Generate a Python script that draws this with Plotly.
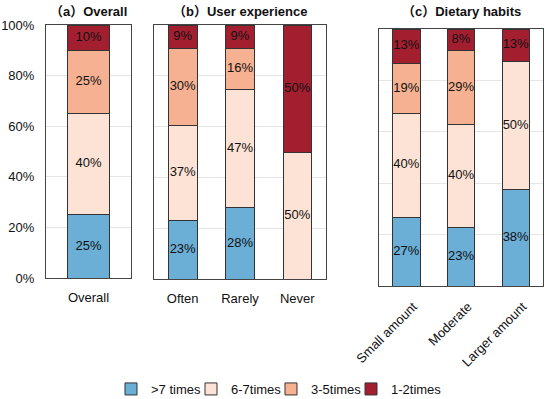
import plotly.graph_objects as go

W, H = 550, 399

series_names = [">7 times", "6-7times", "3-5times", "1-2times"]
colors = ["#6baed6", "#fde3d5", "#f6b192", "#a31f30"]

cats_a = ["Overall"]
a_gt7 = [25.0]
a_67 = [40.0]
a_35 = [25.0]
a_12 = [10.0]

cats_b = ["Often", "Rarely", "Never"]
b_gt7 = [23.2, 28.0, 0.0]
b_67 = [37.3, 46.8, 50.0]
b_35 = [30.3, 16.0, 0.0]
b_12 = [9.2, 9.2, 50.0]

cats_c = ["Small amount", "Moderate", "Larger amount"]
c_gt7 = [26.8, 22.9, 37.6]
c_67 = [40.4, 39.9, 49.8]
c_35 = [19.4, 28.8, 0.0]
c_12 = [13.4, 8.4, 12.6]

titles = ["（a）Overall", "（b）User experience", "（c）Dietary habits"]
y_ticks = [0, 20, 40, 60, 80, 100]
y_ticktext = ["0%", "20%", "40%", "60%", "80%", "100%"]

FONT = "Arial, Liberation Sans, Noto Sans CJK SC, sans-serif"

panels = [
    (cats_a, [a_gt7, a_67, a_35, a_12]),
    (cats_b, [b_gt7, b_67, b_35, b_12]),
    (cats_c, [c_gt7, c_67, c_35, c_12]),
]

# plot-area rectangles in pixels (left, right, top, bottom)
rects = [(46, 131, 25, 278), (154, 326, 25, 279), (379, 543, 29, 286)]
# x where each legend entry's text starts
legend_text_x = [151, 231, 311, 391]
legend_y = 389

def px(x):
    return x / W

def py(y):
    return 1 - y / H

fig = go.Figure()
legend_ids = ["legend", "legend2", "legend3", "legend4"]

for pi, (cats, vals) in enumerate(panels):
    suffix = "" if pi == 0 else str(pi + 1)
    xa, ya = "x" + suffix, "y" + suffix
    base = [0.0] * len(cats)
    for si, v in enumerate(vals):
        fig.add_trace(go.Bar(
            x=cats, y=v, name=series_names[si], width=0.5,
            marker=dict(color=colors[si], line=dict(color="#333333", width=1)),
            xaxis=xa, yaxis=ya, legendgroup=series_names[si],
            legend=legend_ids[si],
            showlegend=(pi == 0), hoverinfo="skip",
        ))
        mids = [b + val / 2 for b, val in zip(base, v)]
        texts = [f"{round(val)}%" if val > 0 else "" for val in v]
        fig.add_trace(go.Scatter(
            x=cats, y=mids, text=texts, mode="text",
            textfont=dict(family=FONT, size=13, color="#111111"),
            xaxis=xa, yaxis=ya, showlegend=False, hoverinfo="skip",
            cliponaxis=False,
        ))
        base = [b + val for b, val in zip(base, v)]

layout = dict(
    width=W, height=H, autosize=False,
    margin=dict(l=0, r=0, t=0, b=0, autoexpand=False),
    paper_bgcolor="white", plot_bgcolor="white",
    barmode="stack",
    font=dict(family=FONT, size=13, color="#111111"),
    annotations=[],
)

for li, lid in enumerate(legend_ids):
    layout[lid] = dict(
        orientation="h", x=px(legend_text_x[li] - 40), xanchor="left",
        y=py(legend_y), yanchor="middle", itemwidth=30,
        bgcolor="rgba(0,0,0,0)", borderwidth=0,
        font=dict(family=FONT, size=13, color="#111111"),
    )

for pi, (l, r, t, b) in enumerate(rects):
    suffix = "" if pi == 0 else str(pi + 1)
    n = len(panels[pi][0])
    xax = dict(
        domain=[px(l), px(r)], range=[-0.5, n - 0.5], type="category",
        anchor="y" + suffix, showline=True, mirror=True,
        linecolor="#444444", linewidth=1, showgrid=False, zeroline=False,
        ticks="outside", ticklen=7, tickcolor="rgba(0,0,0,0)",
        tickfont=dict(family=FONT, size=13, color="#111111"),
        tickangle=-45 if pi == 2 else 0, automargin=False, fixedrange=True,
    )
    if pi == 2:
        xax["ticklabelshift"] = 7
    layout["xaxis" + suffix] = xax
    layout["yaxis" + suffix] = dict(
        domain=[py(b), py(t)], range=[0, 100],
        anchor="x" + suffix, showline=True, mirror=True,
        linecolor="#444444", linewidth=1, showgrid=True, gridcolor="#e6e6e6",
        zeroline=False, tickvals=y_ticks, ticktext=y_ticktext,
        showticklabels=(pi == 0), ticks="outside", ticklen=8,
        tickcolor="rgba(0,0,0,0)",
        tickfont=dict(family=FONT, size=13, color="#111111"),
        automargin=False, fixedrange=True,
    )
    layout["annotations"].append(dict(
        text="<b>" + titles[pi] + "</b>", xref="paper", yref="paper",
        x=px((l + r) / 2), y=py(11), xanchor="center", yanchor="middle",
        showarrow=False, font=dict(family=FONT, size=13, color="#111111"),
    ))

fig.update_layout(**layout)
fig.write_html(
    "out.html",
    config={"displayModeBar": False, "staticPlot": True},
    post_script="document.body.style.margin='0';document.body.style.overflow='hidden';",
)
